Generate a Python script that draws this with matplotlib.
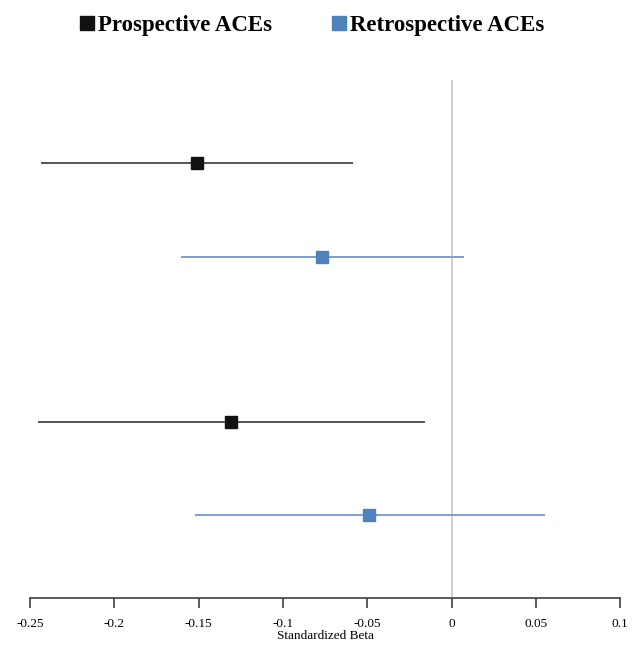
import matplotlib
matplotlib.use("Agg")
import matplotlib.pyplot as plt
from matplotlib.lines import Line2D

plt.rcParams['font.family'] = ['Liberation Serif', 'DejaVu Serif']

# rows from top to bottom
groups = ['Prospective ACEs', 'Retrospective ACEs', 'Prospective ACEs', 'Retrospective ACEs']
beta = [-0.151, -0.0766, -0.1307, -0.0487]
ci_low = [-0.243, -0.160, -0.2448, -0.1515]
ci_high = [-0.0588, 0.0071, -0.0166, 0.0547]
ypos = [4.77, 3.765, 2.0, 1.0]

colors = {'Prospective ACEs': '#111111', 'Retrospective ACEs': '#4f81bd'}
line_colors = {'Prospective ACEs': '#555555', 'Retrospective ACEs': '#7a9fd0'}

xticks = [-0.25, -0.2, -0.15, -0.1, -0.05, 0, 0.05, 0.1]

fig = plt.figure(figsize=(6.36, 6.47), dpi=100)
ax = fig.add_axes([0.0472, 0.0757, 0.9278, 0.8006])

ax.axvline(0, color='#c8c8c8', lw=1.2, zorder=1)
for g, b, lo, hi, y in zip(groups, beta, ci_low, ci_high, ypos):
    ax.plot([lo, hi], [y, y], color=line_colors[g], lw=1.4, zorder=2)
    ax.plot(b, y, marker='s', ms=8.5, color=colors[g], mec=colors[g], zorder=3)

ax.set_xlim(-0.25, 0.1)
ax.set_ylim(0.11, 5.66)
ax.set_xticks(xticks)
ax.set_xticklabels(['%g' % t for t in xticks], fontsize=9.5)
ax.set_yticks([])
for s in ['top', 'right', 'left']:
    ax.spines[s].set_visible(False)
ax.spines['bottom'].set_color('#404040')
ax.spines['bottom'].set_linewidth(1.2)
ax.tick_params(axis='x', direction='out', length=7, width=1.2, color='#404040', pad=7.5)
ax.set_xlabel('Standardized Beta', fontsize=9.5, labelpad=0)

handles = [Line2D([], [], marker='s', ls='none', ms=10.2, color=colors[g], mec=colors[g])
           for g in ['Prospective ACEs', 'Retrospective ACEs']]
fig.legend(handles, ['Prospective ACEs', 'Retrospective ACEs'], loc='upper center',
           bbox_to_anchor=(0.49, 1.008), ncol=2, frameon=False, handletextpad=0.1,
           columnspacing=2.6, handlelength=0.7,
           prop={'size': 16.5, 'weight': 'bold'})

fig.savefig('out.png', dpi=100)
